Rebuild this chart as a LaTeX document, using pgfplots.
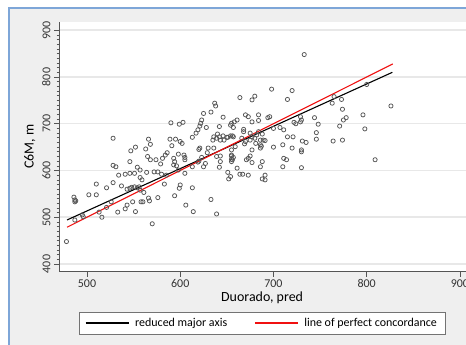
\documentclass[border=0pt]{standalone}
\usepackage{pgfplots}
\pgfplotsset{compat=1.18}
\usepackage{fontspec}
\setmainfont{Carlito}
\definecolor{bg}{HTML}{EFEFEF}
\definecolor{frameblue}{HTML}{7EA6D8}
\definecolor{gridc}{HTML}{E8E8E8}
\definecolor{markc}{HTML}{555555}
\definecolor{axc}{HTML}{555555}
\definecolor{rline}{HTML}{F01010}
\pgfplotstableread{
x y
478 448
486 543
487 537
487 533
488 535
495 505
496 501
487 494
502 548
510 571
510 548
513 511
516 500
521 563
521 521
526 533
528 669
528 611
531 608
528 574
533 511
534 590
537 567
541 592
541 518
543 526
546 619
547 642
552 650
546 594
551 594
554 607
557 601
543 560
546 562
548 564
551 565
554 563
556 565
552 512
557 585
559 580
549 533
558 533
566 667
568 656
563 646
565 630
568 623
574 623
579 614
581 626
584 633
586 638
589 667
595 667
591 653
598 635
600 662
602 658
604 633
605 628
605 623
593 626
594 619
593 612
596 610
564 596
572 597
576 597
580 592
585 590
583 571
605 594
598 601
613 608
620 645
621 648
630 648
636 648
629 638
620 620
639 630
643 631
642 607
643 619
655 631
655 619
656 623
651 596
652 582
600 569
599 562
594 546
613 563
606 526
614 512
633 538
639 507
570 486
566 541
567 535
576 542
560 533
557 558
561 553
590 702
599 699
603 703
623 708
622 701
621 695
619 687
617 680
613 671
637 744
638 738
625 722
633 725
646 714
642 694
628 692
636 672
639 669
642 672
646 674
650 671
651 671
654 674
656 674
647 665
619 618
623 628
627 615
625 608
640 678
643 665
635 665
698 774
720 771
680 759
677 751
664 756
715 752
670 719
673 715
684 719
684 707
694 713
696 715
677 704
661 708
658 704
655 701
654 697
657 692
668 688
668 683
729 715
730 708
729 704
722 703
724 700
744 713
748 699
707 692
711 687
700 690
684 683
688 678
682 676
675 680
677 672
657 672
666 669
670 662
675 665
680 669
686 665
689 665
691 664
681 658
686 655
715 672
721 672
746 681
746 667
731 663
735 660
669 657
659 651
655 644
677 644
687 652
686 648
700 650
710 655
720 648
730 644
730 640
655 633
657 628
655 624
675 631
673 626
671 623
677 617
688 619
686 608
711 626
714 623
710 608
730 606
661 605
664 592
667 592
673 590
688 582
691 580
691 590
654 587
800 784
765 758
763 744
773 752
774 731
826 738
796 719
778 713
775 708
798 689
771 695
764 663
774 665
809 623
733 848
}\scatterdata
\begin{document}
\begin{tikzpicture}
\useasboundingbox (0,0) rectangle (466bp,345bp);
\fill[white] (0,0) rectangle (466bp,345bp);
\fill[bg] (9bp,0) rectangle (466bp,337bp);
\draw[frameblue, line width=1.5bp] (9bp,0) -- (9bp,337bp) -- (466bp,337bp);
\begin{axis}[
  at={(59bp,73.3bp)}, anchor=south west,
  scale only axis, width=407bp, height=250bp,
  xmin=470, xmax=906.5, ymin=383.5, ymax=918.3,
  axis x line*=bottom, axis y line*=left,
  axis line style={axc, line width=0.8bp},
  axis background/.style={fill=white},
  xtick={500,600,700,800,900},
  ytick={400,500,600,700,800,900},
  minor y tick num=9,
  tick align=outside,
  major tick length=5bp, minor tick length=2.5bp,
  tick style={axc, line width=0.6bp},
  ymajorgrids, grid style={gridc, line width=1.5bp},
  /pgf/number format/assume math mode=true,
  ticklabel style={font=\fontsize{12}{14}\selectfont, text=black!80},
  xticklabel style={yshift=-1bp, inner ysep=1.5bp},
  yticklabel style={rotate=90, anchor=south},
  xlabel={Duorado, pred}, ylabel={C6M, m},
  label style={font=\fontsize{14}{16}\selectfont},
  xlabel style={at={(axis description cs:0.499,-0.106)}, anchor=center, inner ysep=1bp},
  ylabel style={at={(axis description cs:-0.072,0.5)}, anchor=center},
  legend style={at={(axis description cs:0.4988,-0.205)}, anchor=center,
    legend columns=2, draw=black!55, fill=white, line width=0.6bp,
    font=\fontsize{12}{14}\selectfont,
    /tikz/every odd column/.append style={column sep=4bp},
    /tikz/every even column/.append style={column sep=25bp},
    inner xsep=6bp, inner ysep=4bp},
  legend image code/.code={\draw[#1] (0bp,0bp) -- (43bp,0bp);},
]
\addplot[only marks, mark=o, mark size=2.1bp, color=markc, mark options={line width=0.75bp}, forget plot] table[x=x,y=y] {\scatterdata};
\addplot[black, line width=1.1bp] coordinates {(478.6,494.1) (827.5,810)};
\addlegendentry{reduced major axis}
\addplot[rline, line width=1.1bp] coordinates {(478.6,478.6) (828,828)};
\addlegendentry{line of perfect concordance\hspace{16bp}}
\end{axis}
\end{tikzpicture}
\end{document}
